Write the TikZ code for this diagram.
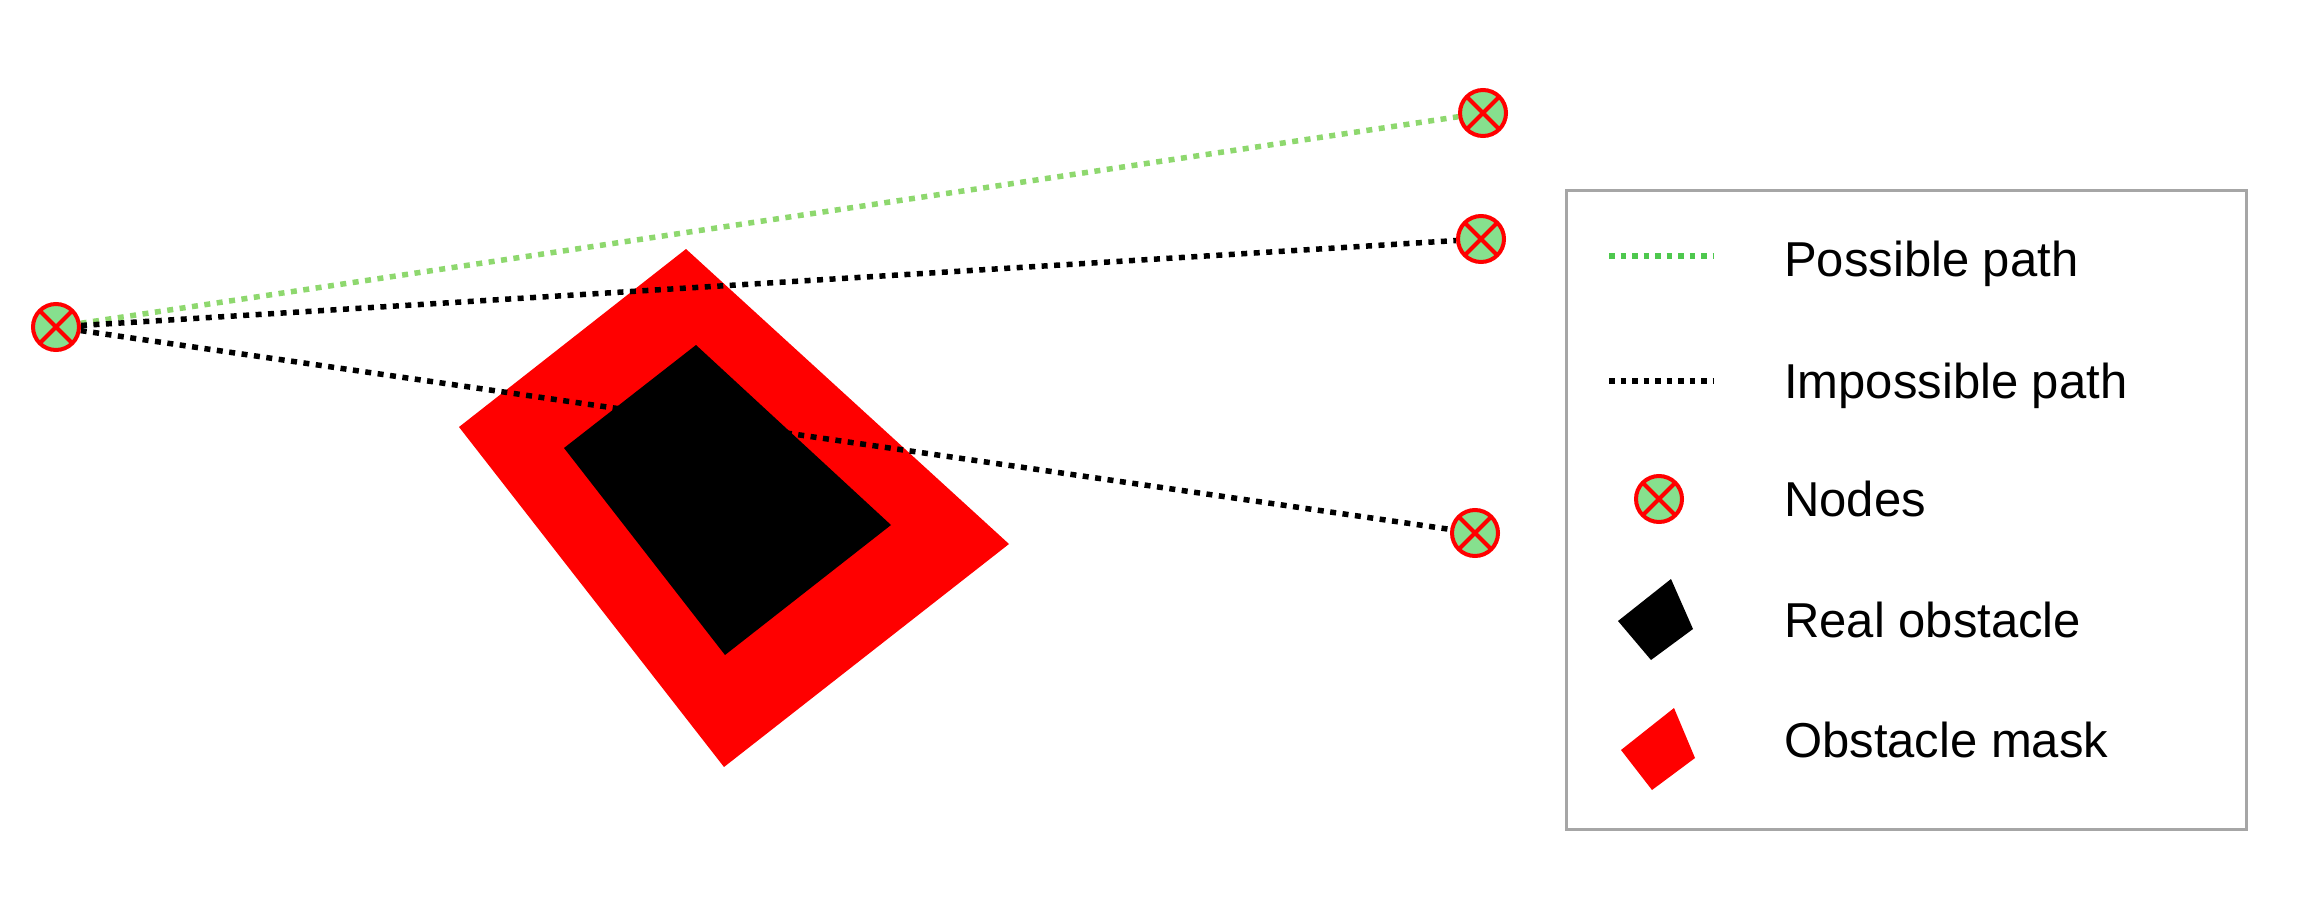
\documentclass[tikz,border=0pt]{standalone}
\usepackage{fontspec}
\setmainfont{Liberation Sans}
\usetikzlibrary{backgrounds}
\definecolor{nodegreen}{RGB}{134,224,142}
\definecolor{pathgreen}{RGB}{142,216,110}
\definecolor{keygreen}{RGB}{78,200,78}
\definecolor{maskred}{RGB}{255,0,0}
\definecolor{framegray}{RGB}{166,166,166}

\begin{document}
\begin{tikzpicture}[
    x=1pt, y=-1pt,
    waypoint/.style={circle,draw=maskred,fill=nodegreen,line width=4pt,
      minimum size=46pt,inner sep=0pt,
      path picture={\draw[maskred,line width=4pt]
        (path picture bounding box.north west) -- (path picture bounding box.south east)
        (path picture bounding box.north east) -- (path picture bounding box.south west);}},
    okpath/.style={draw=pathgreen,line width=5.5pt,dash pattern=on 6pt off 6.5pt},
    nopath/.style={draw=black,line width=5.5pt,dash pattern=on 6pt off 6.5pt},
    keytext/.style={anchor=base west,inner sep=0pt,font=\fontsize{49}{59}\selectfont}
  ]
  \useasboundingbox (0,0) rectangle (2297,902);

  % start and goal nodes
  \node[waypoint] (src) at (56,327) {};
  \node[waypoint] (goalA) at (1483,113) {};
  \node[waypoint] (goalB) at (1481,239) {};
  \node[waypoint] (goalC) at (1475,533) {};

  \begin{pgfonlayer}{background}
    \fill[maskred] (686,249) -- (1009,544) -- (724,767) -- (459,427) -- cycle;
    \draw[okpath] (src) -- (goalA);
    \draw[nopath] (src) -- (goalB);
    \draw[nopath] (src) -- (goalC);
    \fill[black] (696,345) -- (891,525) -- (725,655) -- (564,448) -- cycle;
  \end{pgfonlayer}

  % legend
  \node[draw=framegray,line width=3pt,minimum width=680pt,minimum height=639pt,
    inner sep=0pt] (legend) at (1906,509.5) {};
  \coordinate (okL) at (1609,256);
  \coordinate (okR) at (1714,256);
  \coordinate (noL) at (1609,381);
  \coordinate (noR) at (1714,381);
  \draw[okpath,draw=keygreen,dash pattern=on 5.5pt off 6pt] (okL) -- (okR);
  \draw[nopath,dash pattern=on 5.5pt off 6pt] (noL) -- (noR);
  \node[waypoint] (keynode) at (1659,499) {};
  \fill[black] (1618,621) -- (1671,579) -- (1693,629) -- (1651,660) -- cycle;
  \fill[maskred] (1621,750) -- (1674,708) -- (1695,758) -- (1652,790) -- cycle;

  \node[keytext] (okkey) at (1784,276) {Possible path};
  \node[keytext] (nokey) at (1784,398) {Impossible path};
  \node[keytext] (nodekey) at (1784,516) {Nodes};
  \node[keytext] (obstkey) at (1784,637) {Real obstacle};
  \node[keytext] (maskkey) at (1784,757) {Obstacle mask};
\end{tikzpicture}
\end{document}
